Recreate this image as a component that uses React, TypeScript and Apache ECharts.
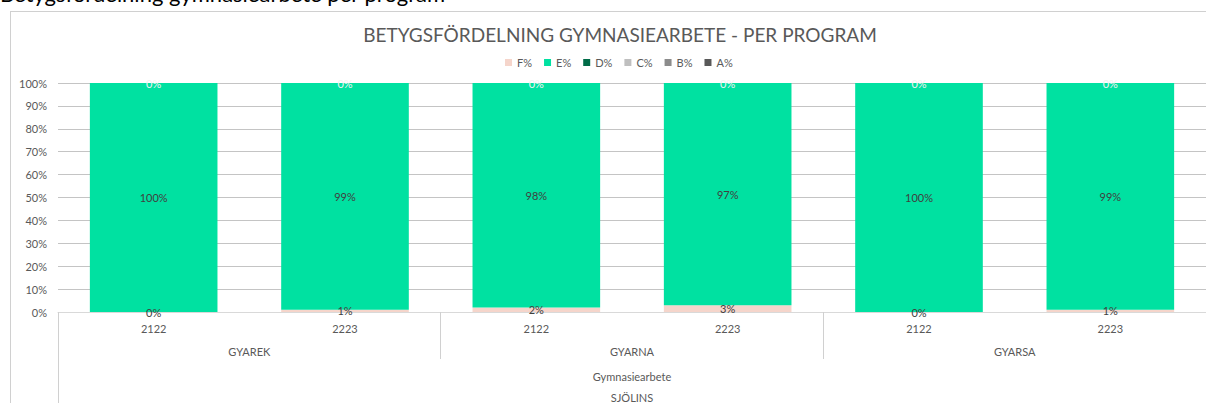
import React, { useEffect, useRef } from "react";
import * as echarts from "echarts";

const categories = ["2122", "2223", "2122", "2223", "2122", "2223"];
const programs = ["GYAREK", "GYARNA", "GYARSA"];
const courseLabel = ["Gymnasiearbete"];
const schoolLabel = ["SJÖLINS"];
const seriesNames = ["F%", "E%", "D%", "C%", "B%", "A%"];
const fValues = [0, 1, 2, 3, 0, 1];
const eValues = [100, 99, 98, 97, 100, 99];
const dValues = [0, 0, 0, 0, 0, 0];
const cValues = [0, 0, 0, 0, 0, 0];
const bValues = [0, 0, 0, 0, 0, 0];
const aValues = [0, 0, 0, 0, 0, 0];
const seriesColors = ["#F5D5CB", "#00E1A1", "#006B47", "#BFBFBF", "#8C8C8C", "#595959"];

const FONT = "Lato";
const TXT = "#595959";

export default function App() {
  const ref = useRef<HTMLDivElement>(null);
  useEffect(() => {
    if (!ref.current) return;
    const chart = echarts.init(ref.current, null, { renderer: "svg" });
    const values = [fValues, eValues, dValues, cValues, bValues, aValues];
    const series = seriesNames.map((name, i) => ({
      name,
      type: "bar",
      stack: "total",
      data: values[i],
      barCategoryGap: "33.3%",
      itemStyle: { color: seriesColors[i] },
      label: {
        show: i <= 2,
        position: "inside",
        formatter: (p: any) => p.value + "%",
        color: i === 2 ? "#F2F2F2" : "#404040",
        fontFamily: FONT,
        fontSize: 11,
      },
    }));
    chart.setOption({
      animation: false,
      textStyle: { fontFamily: FONT },
      title: {
        text: "BETYGSFÖRDELNING GYMNASIEARBETE - PER PROGRAM",
        left: 615,
        textAlign: "center",
        top: 20,
        textStyle: { color: TXT, fontSize: 19, fontWeight: "normal", fontFamily: FONT },
      },
      legend: {
        top: 52,
        left: 500,
        itemWidth: 7,
        itemHeight: 7,
        itemGap: 12,
        icon: "rect",
        textStyle: { color: TXT, fontSize: 11, fontFamily: FONT },
        data: seriesNames,
      },
      grid: { left: 58, top: 83, width: 1152, height: 232 },
      yAxis: {
        type: "value",
        min: 0,
        max: 100,
        interval: 10,
        axisLabel: { formatter: "{value}%", color: TXT, fontSize: 11, margin: 11, fontFamily: FONT },
        splitLine: { lineStyle: { color: "#C4C4C4" } },
        axisLine: { show: false },
        axisTick: { show: false },
      },
      xAxis: [
        {
          type: "category",
          data: categories,
          position: "bottom",
          axisLine: { show: true, lineStyle: { color: "#D9D9D9" } },
          axisTick: { show: false },
          axisLabel: { color: TXT, fontSize: 11, margin: 11, fontFamily: FONT },
        },
        {
          type: "category",
          data: programs,
          position: "bottom",
          gridIndex: 0,
          axisLine: { show: false },
          axisTick: { show: true, length: 47, lineStyle: { color: "#D0D0D0" } },
          axisLabel: { color: TXT, fontSize: 11, margin: 34, fontFamily: FONT },
        },
        {
          type: "category",
          data: courseLabel,
          position: "bottom",
          gridIndex: 0,
          axisLine: { show: false },
          axisTick: { show: true, length: 100, lineStyle: { color: "#D0D0D0" } },
          axisLabel: { color: TXT, fontSize: 11, margin: 59, fontFamily: FONT },
        },
        {
          type: "category",
          data: schoolLabel,
          position: "bottom",
          gridIndex: 0,
          axisLine: { show: false },
          axisTick: { show: false },
          axisLabel: { color: TXT, fontSize: 11, margin: 80, fontFamily: FONT },
        },
      ],
      series,
      graphic: [
        {
          type: "line",
          shape: { x1: 10, y1: 11.5, x2: 1206, y2: 11.5 },
          style: { stroke: "#D0D0D0", lineWidth: 1 },
        },
        {
          type: "line",
          shape: { x1: 10.5, y1: 11, x2: 10.5, y2: 403 },
          style: { stroke: "#D0D0D0", lineWidth: 1 },
        },
        {
          type: "text",
          x: 0,
          y: 4,
          style: {
            text: "Betygsfördelning gymnasiearbete per program",
            font: "22px Lato",
            fill: "#000000",
            verticalAlign: "bottom",
          },
        },
      ],
    });
    return () => chart.dispose();
  }, []);
  return (
    <div
      ref={ref}
      style={{ position: "fixed", left: 0, top: 0, width: 1206, height: 403, background: "#fff" }}
    />
  );
}
